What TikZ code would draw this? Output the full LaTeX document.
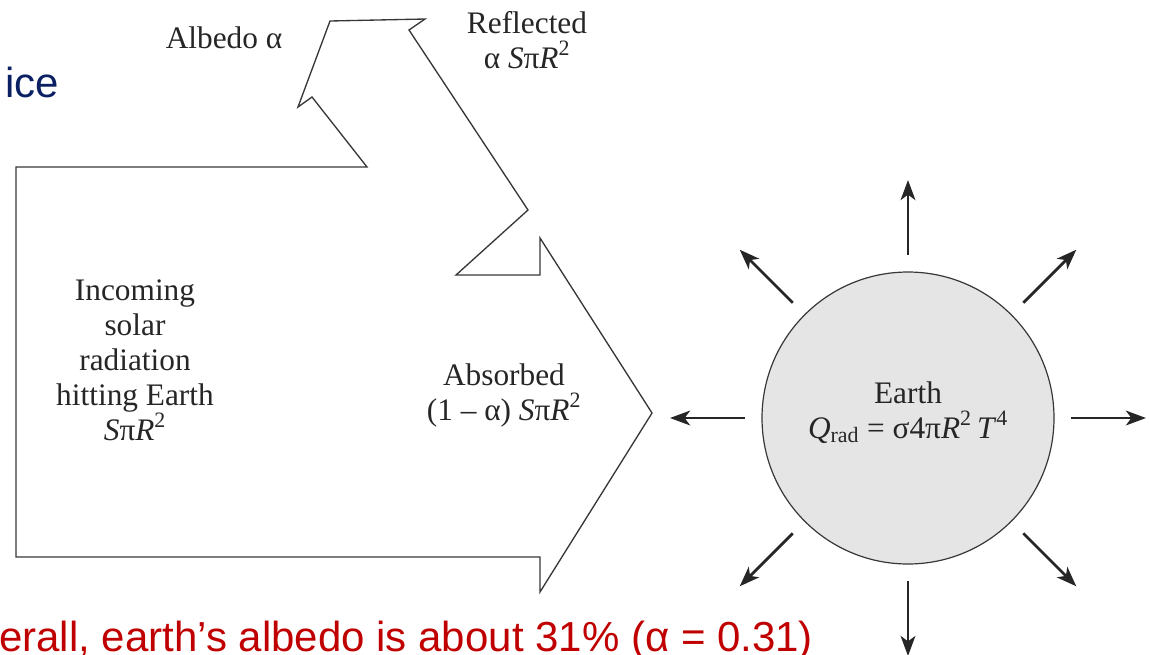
\documentclass[tikz,border=0pt]{standalone}
\usepackage{fontspec}
\setmainfont{Liberation Serif}
\newfontfamily\slidefont{Liberation Sans}
\usetikzlibrary{arrows.meta, calc}
\definecolor{outlinegray}{RGB}{55,55,55}
\definecolor{earthgray}{RGB}{229,229,229}
\definecolor{slideblue}{RGB}{10,32,99}
\definecolor{slidered}{RGB}{192,0,0}
\newcommand{\spr}{\textit{S}π\textit{R}\textsuperscript{2}}
\tikzset{
    flow/.style={draw=outlinegray, line width=1pt, line join=miter},
    planet/.style={circle, draw=outlinegray, line width=0.9pt, fill=earthgray,
                   minimum size=219pt, inner sep=0pt},
    ray/.style={line width=2.1pt, black!85, -{Stealth[length=15pt, width=11pt, inset=4pt]}},
    txt/.style={font=\fontsize{23.5}{26.25}\selectfont, align=center, text=black!85,
                inner sep=0pt, anchor=base},
    slide/.style={font=\slidefont\fontsize{31.5}{36}\selectfont, inner sep=0pt, anchor=base west}
}
\begin{document}
\begin{tikzpicture}[x=0.75pt, y=-0.75pt]
    \useasboundingbox (0,0) rectangle (1149,654);

    % Slide text
    \node[slide, text=slideblue] (ice) at (5,97) {ice};
    \node[slide, text=slidered] (note) at (-1,651) {erall, earth’s albedo is about 31\% (α = 0.31)};

    % Split arrow: incoming, reflected, absorbed
    \draw[flow] (16,167) -- (367,167) -- (312,97) -- (298,107) -- (330,21) -- (425,19)
        -- (409,30) -- (528,210) -- (456,275) -- (540,275) -- (540,238) -- (652,413)
        -- (540,592) -- (540,557) -- (16,557) -- cycle;

    % Labels (placed at the baseline of their last line)
    \node[txt] (albedo) at (224,48) {Albedo α};
    \node[txt] (refl) at (527,68) {Reflected\\α \spr};
    \node[txt] (incoming) at (135,440) {Incoming\\solar\\radiation\\hitting Earth\\\spr};
    \node[txt] (absorbed) at (504,420) {Absorbed\\(1 – α) \spr};

    % Earth
    \node[planet] (earth) at (908,418) {};
    \node[txt] (earthlbl) at (908,438) {Earth\\\textit{Q}\textsubscript{rad} = σ4π\textit{R}\textsuperscript{2}\,\textit{T}\textsuperscript{4}};

    % Emitted radiation
    \foreach \a in {0,45,...,315} {
        \coordinate (s\a) at ($(earth.center)+(\a:163)$);
        \coordinate (e\a) at ($(earth.center)+(\a:238)$);
        \draw[ray] (s\a) -- (e\a);
    }
\end{tikzpicture}
\end{document}
